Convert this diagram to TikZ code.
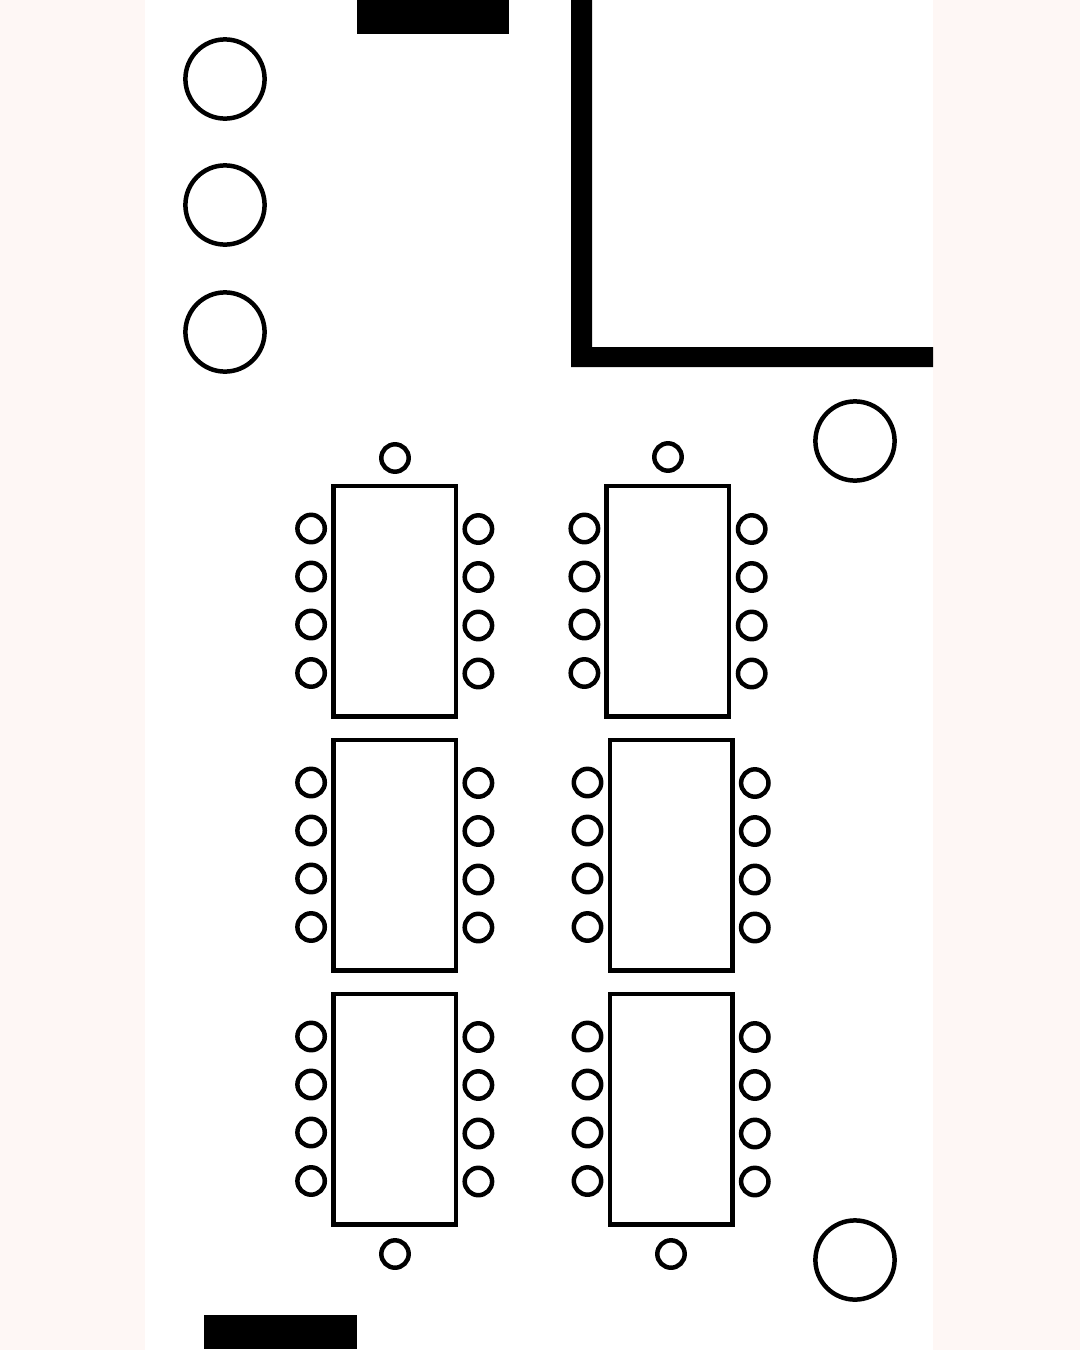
\documentclass[tikz,border=0pt]{standalone}
\tikzset{
  plan/.style={x=1pt,y=-1pt},
  ink/.style={draw=black,line width=4.5pt,fill=white},
  solid block/.style={fill=black,draw=none},
  tablebox/.style={ink},
  seat/.style={ink},
  bigseat/.style={ink}
}
\definecolor{margin}{HTML}{FEF7F5}
% #1 table left edge (path), #2 table top (path)
\newcommand{\seatedtable}[2]{%
  \draw[tablebox] (#1,#2) rectangle ++(122.5,230.5);
  \foreach \dy/\ey in {42.5/43,90.5/91,138.5/139.5,187/187.5}{
    \draw[seat] (#1-22.3,#2+\dy) circle (13.7);
    \draw[seat] (#1+145,#2+\ey) circle (13.7);
  }%
}
\begin{document}
\begin{tikzpicture}[plan]
  \useasboundingbox (0,0) rectangle (1080,1350);
  \fill[margin] (0,0) rectangle (1080,1350);
  \fill[white] (145,0) rectangle (933,1350);
  % black blocks and wall
  \fill[solid block] (357,0) rectangle (509,34);
  \fill[solid block] (204,1315) rectangle (357,1349);
  \fill[solid block] (571,0) -- (592,0) -- (592,347) -- (933,347) -- (933,367) -- (571,367) -- cycle;
  % large round tables
  \foreach \cx/\cy in {225/79,225/205,225/332,855/441,855/1260}
    \draw[bigseat] (\cx,\cy) circle (39.6);
  % seated tables
  \seatedtable{333.4}{486}
  \seatedtable{606.7}{486}
  \seatedtable{333.4}{740}
  \seatedtable{609.8}{740}
  \seatedtable{333.4}{994}
  \seatedtable{609.8}{994}
  % head seats
  \foreach \cx/\cy in {395/458,668/457,395/1254,671/1254}
    \draw[seat] (\cx,\cy) circle (13.7);
\end{tikzpicture}
\end{document}
